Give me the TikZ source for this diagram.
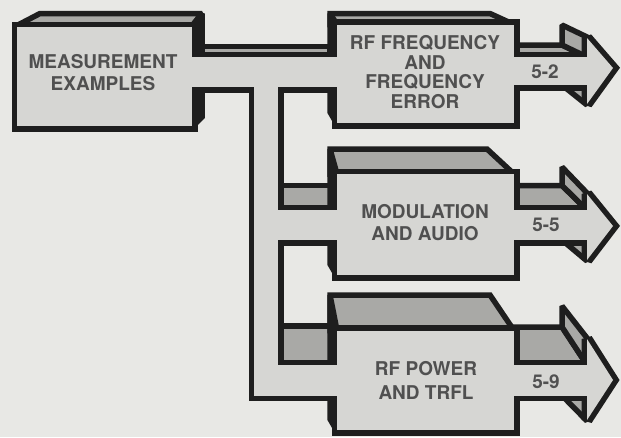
\documentclass[tikz,border=0pt]{standalone}
\usepackage{fontspec}
\setmainfont{TeX Gyre Heros}
\usepackage{xcolor}

\definecolor{sfondo}{HTML}{E8E8E5}
\definecolor{fronte}{HTML}{D6D6D3}
\definecolor{tetto}{HTML}{A9A9A6}
\definecolor{inchiostro}{HTML}{1E1E1E}
\definecolor{scritta}{HTML}{505050}

\begin{document}
\begin{tikzpicture}[x=1pt, y=-1pt, miter limit=1.6]
    % Stili
    \tikzstyle{faccia}=[fill=tetto, draw=inchiostro, line width=5.5pt]
    \tikzstyle{fianco}=[fill=inchiostro, draw=inchiostro, line width=5.5pt]
    \tikzstyle{bordo}=[draw=inchiostro, line width=11pt]
    \tikzstyle{pieno}=[fill=fronte]
    \tikzstyle{etichetta}=[text=scritta, font=\fontsize{19}{22}\selectfont\bfseries, align=center, inner sep=0pt]

    % Sfondo
    \fill[sfondo] (0,0) rectangle (621,437);
    \useasboundingbox (0,0) rectangle (621,437);

    % Facce superiori e fianchi
    \draw[faccia] (16,26) -- (40,13.5) -- (202,13.5) -- (192,26) -- cycle;
    \draw[faccia] (192,46.5) -- (330,46.5) -- (330,57) -- (192,57) -- cycle;
    \draw[faccia] (279,185.5) rectangle (332,210);
    \draw[faccia] (279,326) rectangle (332,365);
    \foreach \yr/\yf/\yg/\xr in {13.5/24.5/124/490, 149/174/276/487, 295/330.5/431/490}{
        \draw[faccia] (330,\yr) -- (\xr,\yr) -- (514,\yf) -- (330,\yf) -- cycle;
        \draw[fianco] (330,\yr) -- (337,\yf) -- (337,\yg) -- (330,\yg-12) -- cycle;
    }
    \foreach \yk/\yt/\ya/\yu/\yb/\ybot in {45/57/25/37/85/105, 185.5/210/167/193/240/261, 327/365/306/338/395.5/421}{
        \draw[faccia] (514,\yk) -- (562,\yk) -- (587,\yt) -- (514,\yt) -- cycle;
        \draw[faccia] (562,\ya) -- (587,\yu) -- (587,\yt) -- (562,\yk) -- cycle;
        \draw[faccia] (562,\yb) -- (587,\yb) -- (587,\ybot) -- cycle;
    }
    \draw[fianco] (192,26) -- (202,13.5) -- (202,117) -- (192,127) -- cycle;

    % Facce frontali: prima il bordo, poi il riempimento
    \foreach \stile in {bordo, pieno}{
        \foreach \xa/\ya/\xb/\yb in {17/27/192/126, 192/57/337/87, 254/87/278/395.5,
                278/210/337/240, 254/365/337/395.5, 337/24.5/514/123, 337/174/514/275,
                337/330.5/514/430, 514/57/587/85, 514/210/587/240, 514/365/587/395.5}
            \path[\stile] (\xa,\ya) rectangle (\xb,\yb);
        \foreach \yu/\yt/\yd in {38/68/104, 194/226/260, 339/380/420}
            \path[\stile] (587,\yu) -- (613,\yt) -- (587,\yd) -- cycle;
    }

    % Nodi
    \node[etichetta] (misure) at (103,73) {MEASUREMENT\\EXAMPLES};
    \node[etichetta, font=\fontsize{19}{19.5}\selectfont\bfseries] (frequenza) at (425,72) {RF FREQUENCY\\AND\\FREQUENCY\\ERROR};
    \node[etichetta] (modulazione) at (425,223) {MODULATION\\AND AUDIO};
    \node[etichetta, font=\fontsize{19}{24}\selectfont\bfseries] (potenza) at (426,380) {RF POWER\\AND TRFL};
    \node[etichetta] (rif2) at (545,71.5) {5-2};
    \node[etichetta] (rif5) at (546,225) {5-5};
    \node[etichetta] (rif9) at (546,381.5) {5-9};

\end{tikzpicture}
\end{document}
